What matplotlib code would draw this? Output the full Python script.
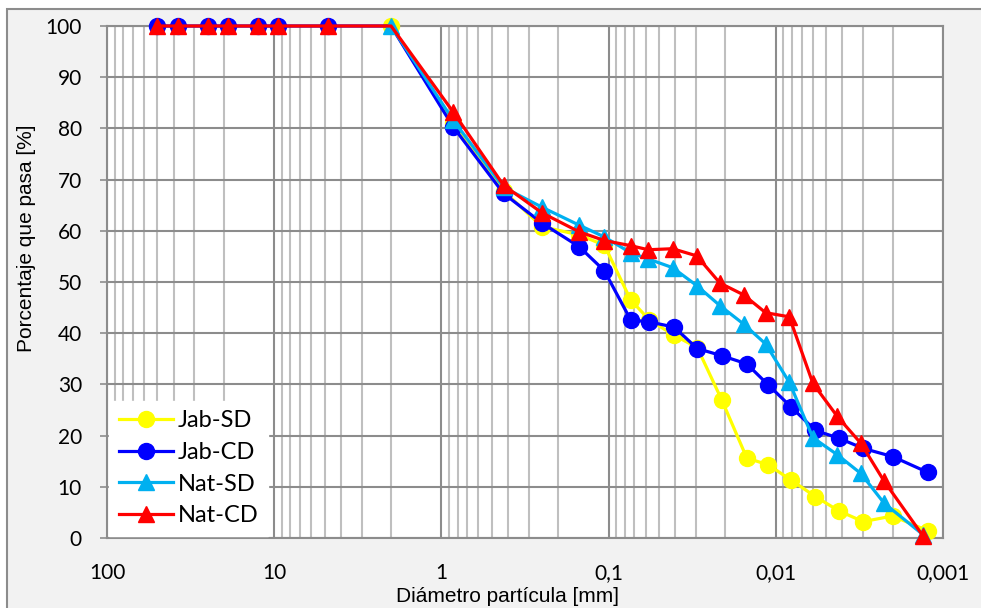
import matplotlib
matplotlib.use("Agg")
import matplotlib.pyplot as plt
from matplotlib.patches import Rectangle
from matplotlib.ticker import FixedLocator, LogLocator, NullFormatter

# ---- data ----
sieve_x = [50, 37.5, 25, 19, 12.5, 9.5, 4.75, 2.0, 0.85, 0.425, 0.25, 0.15, 0.106]
hyd_x_jab = [0.0738, 0.0571, 0.0406, 0.0295, 0.0210, 0.0149, 0.0111, 0.0081,
             0.0058, 0.0042, 0.0030, 0.0020, 0.00123]
hyd_x_nat = [0.0738, 0.0579, 0.0414, 0.0297, 0.0216, 0.0156, 0.0115, 0.0083,
             0.0060, 0.0043, 0.0031, 0.00225, 0.00131]

jab_sd = [100, 81.0, 67.8, 60.8, 59.2, 57.2,
          46.5, 42.6, 39.6, 37.2, 26.9, 15.6, 14.3, 11.3, 8.1, 5.3, 3.2, 4.3, 1.4]
jab_cd = [100, 100, 100, 100, 100, 100, 100, 100, 80.3, 67.3, 61.5, 56.9, 52.2,
          42.6, 42.2, 41.2, 37.0, 35.6, 34.0, 29.9, 25.6, 21.0, 19.5, 17.5, 15.9, 12.8]
nat_sd = [100, 81.6, 68.5, 64.6, 61.1, 58.8,
          55.7, 54.5, 52.8, 49.3, 45.4, 41.8, 37.9, 30.4, 19.6, 16.3, 12.6, 6.8, 0.6]
nat_cd = [100, 100, 100, 100, 100, 100, 100, 100, 83.2, 68.9, 63.5, 59.8, 58.1,
          57.1, 56.3, 56.5, 55.1, 49.8, 47.5, 44.0, 43.2, 30.2, 23.8, 18.5, 11.1, 0.3]

labels = ["Jab-SD", "Jab-CD", "Nat-SD", "Nat-CD"]
colors = ["#FFFF00", "#0000FF", "#00B0F0", "#FF0000"]

x_tick_vals = [100, 10, 1, 0.1, 0.01, 0.001]
x_tick_labels = ["100", "10", "1", "0,1", "0,01", "0,001"]
y_ticks = list(range(0, 101, 10))

# ---- figure ----
W, H = 981, 608
fig = plt.figure(figsize=(W / 100, H / 100), dpi=100, facecolor="white")
fig.patches.append(Rectangle((7 / W, -0.05), 1.0, (H - 9) / H + 0.05,
                             transform=fig.transFigure, facecolor="#F2F2F2",
                             edgecolor="#8C8C8C", lw=1.5, zorder=-10))

ax = fig.add_axes([107 / W, (H - 538) / H, (943 - 107) / W, (538 - 26) / H])
ax.set_zorder(1)
ax.set_facecolor("white")
ax.set_xscale("log")
ax.set_xlim(100, 0.001)
ax.set_ylim(0, 100)

ax.xaxis.set_major_locator(FixedLocator(x_tick_vals))
ax.set_xticks(x_tick_vals)
ax.set_xticklabels(x_tick_labels)
ax.xaxis.set_minor_locator(LogLocator(base=10, subs=range(2, 10), numticks=20))
ax.xaxis.set_minor_formatter(NullFormatter())
ax.set_yticks(y_ticks)

ax.grid(True, which="major", axis="x", color="#8C8C8C", lw=1.5)
ax.grid(True, which="minor", axis="x", color="#BFBFBF", lw=1.5)
ax.grid(True, which="major", axis="y", color="#8C8C8C", lw=1.5)
ax.set_axisbelow(True)

for s in ax.spines.values():
    s.set_color("#8C8C8C")
    s.set_linewidth(1.5)

tick_font = "Lato"
ax.tick_params(axis="x", which="both", length=0, pad=18, labelsize=15)
ax.tick_params(axis="y", which="major", length=5, width=1.2, color="#8C8C8C",
               pad=13, labelsize=15, direction="out")
for lab in ax.get_xticklabels() + ax.get_yticklabels():
    lab.set_fontfamily(tick_font)

# ---- series ----
x_jab_sd = sieve_x[7:] + hyd_x_jab
x_jab_cd = sieve_x + hyd_x_jab
x_nat_sd = sieve_x[7:] + hyd_x_nat
x_nat_cd = sieve_x + hyd_x_nat

skip2 = [i for i in range(len(x_jab_cd)) if i != 7]

series = [
    (x_jab_sd, jab_sd, "o", None),
    (x_jab_cd, jab_cd, "o", skip2),
    (x_nat_sd, nat_sd, "^", None),
    (x_nat_cd, nat_cd, "^", skip2),
]
for (xs, ys, m, me), lab, c in zip(series, labels, colors):
    ax.plot(xs, ys, color=c, lw=2.3, marker=m, markersize=11.5,
            markeredgecolor=c, markerfacecolor=c, markevery=me, label=lab,
            clip_on=False, zorder=3)

leg = ax.legend(loc="lower left", bbox_to_anchor=(0.0, 0.0), frameon=True,
                fancybox=False, framealpha=1, edgecolor="white",
                facecolor="white", prop={"family": tick_font, "size": 17},
                handlelength=2.3, handletextpad=0.2, labelspacing=0.45,
                borderpad=0.4, borderaxespad=0.1)

fig.text(27 / W, 1 - 238 / H, "Porcentaje que pasa [%]", rotation=90,
         ha="center", va="center", fontsize=15, family="Liberation Sans")
fig.text(507 / W, 1 - 597 / H, "Diámetro partícula [mm]", ha="center",
         va="center", fontsize=15, family="Liberation Sans")

fig.savefig("out.png", dpi=100, facecolor=fig.get_facecolor())
